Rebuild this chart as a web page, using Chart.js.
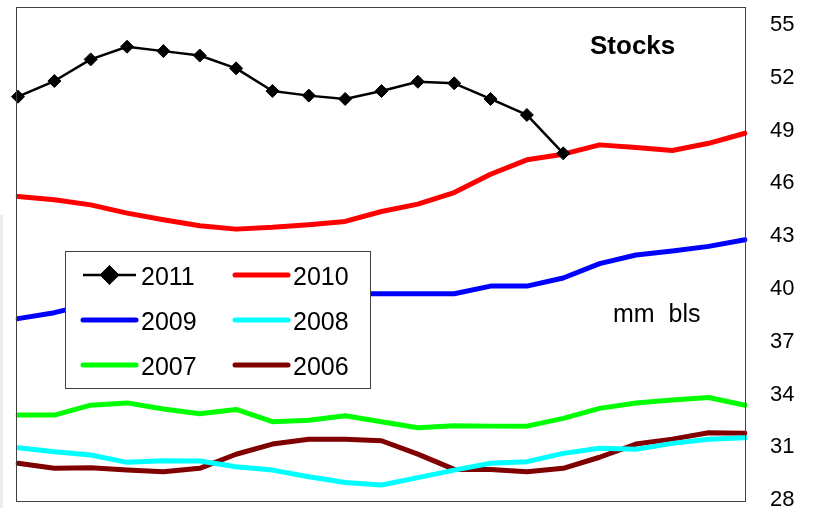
<!DOCTYPE html>
<html>
<head>
<meta charset="utf-8">
<script src="https://cdn.jsdelivr.net/npm/chart.js@4.4.0/dist/chart.umd.min.js"></script>
<style>
  html, body { margin: 0; padding: 0; background: #fff; }
  #wrap { width: 813px; height: 508px; position: relative; }
</style>
</head>
<body>
<div id="wrap"><canvas id="c" width="813" height="508"></canvas></div>
<script>
// Weekly crude stocks, million barrels
const weeks = ['1','2','3','4','5','6','7','8','9','10','11','12','13','14','15','16','17','18','19','20','21'];
const seriesNames = ['2011', '2010', '2009', '2008', '2007', '2006'];

const stocks2011 = [50.93, 51.82, 53.05, 53.77, 53.52, 53.27, 52.54, 51.25, 50.99, 50.80, 51.25, 51.78, 51.69, 50.80, 49.89, 47.71];
const stocks2010 = [45.26, 45.07, 44.78, 44.31, 43.93, 43.59, 43.40, 43.50, 43.65, 43.84, 44.40, 44.82, 45.48, 46.52, 47.34, 47.66, 48.19, 48.04, 47.87, 48.28, 48.85];
const stocks2009 = [38.31, 38.65, 39.15, 39.40, 39.55, 39.60, 39.65, 39.70, 39.72, 39.73, 39.73, 39.73, 39.73, 40.16, 40.16, 40.62, 41.44, 41.93, 42.16, 42.42, 42.80];
const stocks2008 = [30.97, 30.74, 30.56, 30.14, 30.23, 30.22, 29.89, 29.70, 29.32, 29.00, 28.85, 29.27, 29.70, 30.09, 30.18, 30.65, 30.94, 30.88, 31.22, 31.45, 31.54];
const stocks2007 = [32.83, 32.83, 33.39, 33.52, 33.17, 32.90, 33.15, 32.45, 32.53, 32.79, 32.45, 32.11, 32.22, 32.20, 32.20, 32.64, 33.21, 33.52, 33.68, 33.83, 33.39];
const stocks2006 = [30.09, 29.80, 29.83, 29.70, 29.61, 29.80, 30.60, 31.18, 31.45, 31.46, 31.37, 30.61, 29.74, 29.74, 29.61, 29.80, 30.43, 31.18, 31.46, 31.82, 31.79];

const yTicks = [28, 31, 34, 37, 40, 43, 46, 49, 52, 55];
const yMin = 28, yMax = 56;

const FONT = "'Liberation Sans', Arial, sans-serif";

function lineSet(label, data, color) {
  return {
    label, data,
    borderColor: color, backgroundColor: color,
    borderWidth: 5, pointRadius: 0, pointHoverRadius: 0,
    tension: 0, borderJoinStyle: 'round', borderCapStyle: 'round', fill: false
  };
}

const datasets = [
  {
    label: seriesNames[0], data: stocks2011,
    borderColor: '#000', backgroundColor: '#000',
    borderWidth: 2.5, pointStyle: 'rectRot', pointRadius: 6.5, pointBorderWidth: 1,
    pointBackgroundColor: '#000', pointBorderColor: '#000', pointHoverRadius: 6.5,
    tension: 0, borderJoinStyle: 'round', fill: false
  },
  lineSet(seriesNames[1], stocks2010, '#FF0000'),
  lineSet(seriesNames[2], stocks2009, '#0000FF'),
  lineSet(seriesNames[3], stocks2008, '#00FFFF'),
  lineSet(seriesNames[4], stocks2007, '#00FF00'),
  lineSet(seriesNames[5], stocks2006, '#800000')
];

// Plot frame, text annotations and the boxed legend
const decorations = {
  id: 'decorations',
  beforeDraw(chart) {
    const ctx = chart.ctx;
    ctx.save();
    ctx.fillStyle = '#ececec';
    ctx.fillRect(0, 215, 3, 293);
    ctx.restore();
  },
  afterDraw(chart) {
    const ctx = chart.ctx;
    const a = chart.chartArea;
    ctx.save();

    // frame around the plot
    ctx.strokeStyle = '#404040';
    ctx.lineWidth = 1;
    ctx.strokeRect(Math.round(a.left) - 1.5, Math.round(a.top) - 0.5,
                   Math.round(a.right - a.left) + 2, Math.round(a.bottom - a.top) + 1);

    // titles
    ctx.fillStyle = '#000';
    ctx.textBaseline = 'alphabetic';
    ctx.textAlign = 'left';
    ctx.font = 'bold 26px ' + FONT;
    ctx.fillText('Stocks', 590, 54);
    ctx.font = '25px ' + FONT;
    ctx.fillText('mm  bls', 613, 322);

    // legend box
    const bx = 65.5, by = 251.5, bw = 305, bh = 137;
    ctx.fillStyle = '#fff';
    ctx.fillRect(bx, by, bw, bh);
    ctx.strokeStyle = '#404040';
    ctx.lineWidth = 1;
    ctx.strokeRect(bx, by, bw, bh);

    const colX = [83, 235];
    const rowY = [275, 320, 365];
    chart.data.datasets.forEach((ds, i) => {
      const x0 = colX[i % 2];
      const y = rowY[Math.floor(i / 2)];
      const len = 53;
      ctx.beginPath();
      ctx.moveTo(x0, y);
      ctx.lineTo(x0 + len, y);
      ctx.strokeStyle = ds.borderColor;
      ctx.lineWidth = ds.borderWidth;
      ctx.lineCap = ds.pointStyle ? 'butt' : 'round';
      ctx.stroke();
      if (ds.pointStyle) {
        Chart.helpers.drawPoint(ctx, {
          pointStyle: ds.pointStyle, radius: 8, borderWidth: 1
        }, x0 + len / 2, y);
        ctx.fillStyle = '#000';
        ctx.strokeStyle = '#000';
        ctx.fill();
        ctx.stroke();
      }
      ctx.fillStyle = '#000';
      ctx.font = '25px ' + FONT;
      ctx.textAlign = 'left';
      ctx.textBaseline = 'alphabetic';
      ctx.fillText(ds.label, x0 + 58, y + 9.5);
    });
    ctx.restore();
  }
};

new Chart(document.getElementById('c'), {
  type: 'line',
  data: { labels: weeks, datasets },
  options: {
    responsive: false,
    animation: false,
    devicePixelRatio: 1,
    layout: { padding: { left: 18, top: 5, bottom: 8, right: 0 } },
    plugins: { legend: { display: false }, tooltip: { enabled: false } },
    scales: {
      x: { display: false, offset: false },
      y: {
        position: 'right',
        min: yMin, max: yMax,
        afterBuildTicks(scale) { scale.ticks = yTicks.map(v => ({ value: v })); },
        afterFit(scale) { scale.width = 68; scale.paddingTop = 0; scale.paddingBottom = 0; },
        grid: { display: false, drawTicks: false },
        border: { display: false },
        ticks: {
          padding: 25,
          color: '#000',
          font: { family: FONT, size: 22 }
        }
      }
    }
  },
  plugins: [decorations]
});
</script>
</body>
</html>
